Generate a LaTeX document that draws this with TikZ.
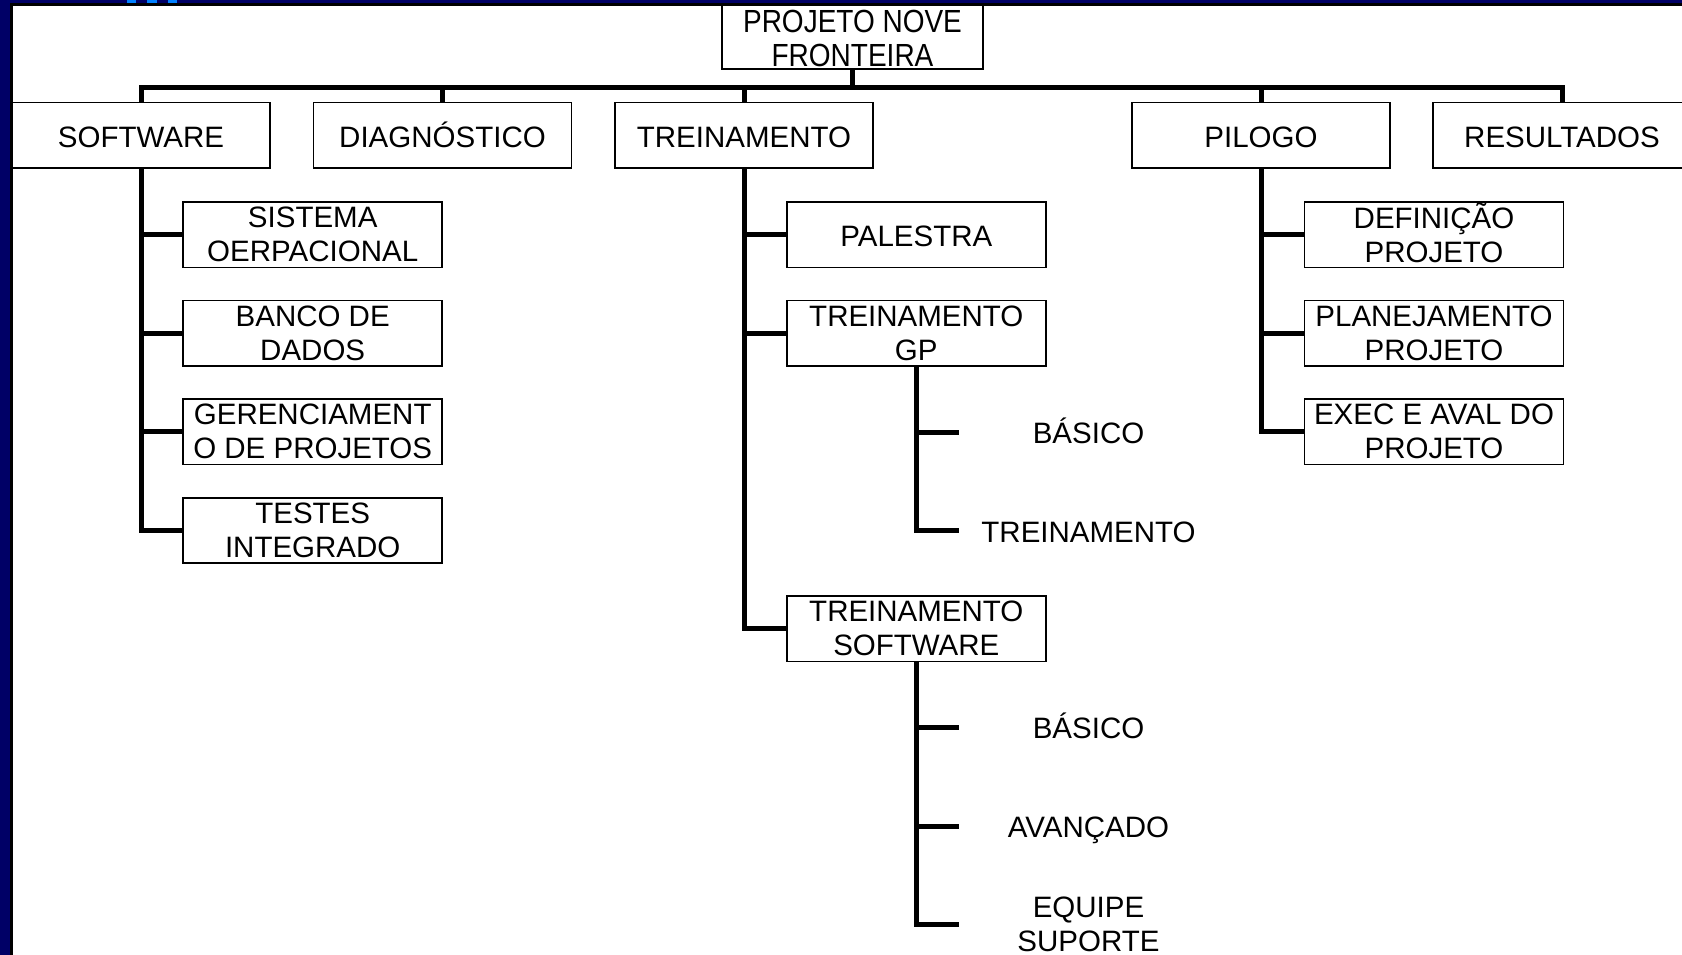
\documentclass[tikz,border=0pt]{standalone}
\usepackage{fontspec}
\setmainfont{Liberation Sans}
\newfontfamily\topfamily[FakeStretch=0.875]{Liberation Sans}
\newcommand\labfont{\fontsize{29.5}{34}\selectfont}
\newcommand\topfont{\topfamily\fontsize{32}{34}\selectfont}
\newcommand\capline[1]{\smash{#1}\rule{0pt}{21.1pt}}
\definecolor{navy}{RGB}{0,0,102}
\definecolor{lightblue}{RGB}{0,128,255}
\tikzset{
  txt/.style={inner sep=0pt, align=center, font=\labfont},
  one/.style={text height=23.5pt, text depth=0pt},
  box/.style={txt, draw=black, line width=1.8pt, fill=white, minimum width=259pt, minimum height=65.5pt},
  leaf/.style={txt, minimum width=259pt, minimum height=65.5pt},
  conn/.style={line width=5pt, line join=miter},
}
\begin{document}
\begin{tikzpicture}[x=1pt,y=-1pt]
\useasboundingbox (0,0) rectangle (1682,955);
\fill[white] (0,0) rectangle (1682,955);

% nodes
\node[box, minimum width=261pt, minimum height=67pt, font=\topfont] (top) at (852.5,35.5) {\rule{0pt}{28pt}PROJETO NOVE\\FRONTEIRA};

\node[box, one, minimum width=258pt] (sw) at (141,135.3) {SOFTWARE};
\node[box, one, minimum width=258pt] (dg) at (442.5,135.3) {DIAGNÓSTICO};
\node[box, one, minimum width=258pt] (tr) at (744,135.3) {TREINAMENTO};
\node[box, one, minimum width=258pt] (pl) at (1261,135.3) {PILOGO};
\node[box, one, minimum width=258pt] (rs) at (1562,135.3) {RESULTADOS};

\node[box] (s1) at (312.7,234.7) {SISTEMA\\OERPACIONAL};
\node[box] (s2) at (312.7,333.2) {BANCO DE\\DADOS};
\node[box] (s3) at (312.7,431.7) {GERENCIAMENT\\O DE PROJETOS};
\node[box] (s4) at (312.7,530.5) {TESTES\\INTEGRADO};

\node[box, one] (t1) at (916.3,234.7) {PALESTRA};
\node[box] (t2) at (916.3,333.2) {TREINAMENTO\\GP};
\node[box] (t3) at (916.3,628.7) {TREINAMENTO\\SOFTWARE};

\node[leaf, one] (g1) at (1088.5,432) {BÁSICO};
\node[leaf, one] (g2) at (1088.5,530.5) {TREINAMENTO};
\node[leaf, one] (w1) at (1088.5,727) {BÁSICO};
\node[leaf, one] (w2) at (1088.5,826) {AVANÇADO};
\node[leaf] (w3) at (1088.5,924.7) {EQUIPE\\SUPORTE};

\node[box] (p1) at (1434,234.7) {\capline{DEFINIÇÃO}\\PROJETO};
\node[box] (p2) at (1434,333.2) {PLANEJAMENTO\\PROJETO};
\node[box] (p3) at (1434,431.7) {EXEC E AVAL DO\\PROJETO};

% level-1 bus
\draw[conn] (top.south) -- ++(0,18) -| (sw.north);
\draw[conn] (top.south) -- ++(0,18) -| (dg.north);
\draw[conn] (top.south) -- ++(0,18) -| (tr.north);
\draw[conn] (top.south) -- ++(0,18) -| (pl.north);
\draw[conn] (top.south) -- ++(0,18) -| (rs.north);

% software
\foreach \c in {s1,s2,s3,s4} \draw[conn] (sw.south) |- (\c.west);
% treinamento
\foreach \c in {t1,t2,t3} \draw[conn] (tr.south) |- (\c.west);
\foreach \c in {g1,g2} \draw[conn] (t2.south) |- (\c.west);
\foreach \c in {w1,w2,w3} \draw[conn] (t3.south) |- (\c.west);
% pilogo
\foreach \c in {p1,p2,p3} \draw[conn] (pl.south) |- (\c.west);

% frame
\fill[navy] (0,0) rectangle (1682,3.5);
\fill[navy] (0,0) rectangle (10,955);
\fill[black] (10,3.5) rectangle (1682,5.7);
\fill[black] (10,3.5) rectangle (12.5,955);
\fill[lightblue] (127,0) rectangle (136,2.7);
\fill[lightblue] (147,0) rectangle (157,2.7);
\fill[lightblue] (168,0) rectangle (177,2.7);
\end{tikzpicture}
\end{document}
